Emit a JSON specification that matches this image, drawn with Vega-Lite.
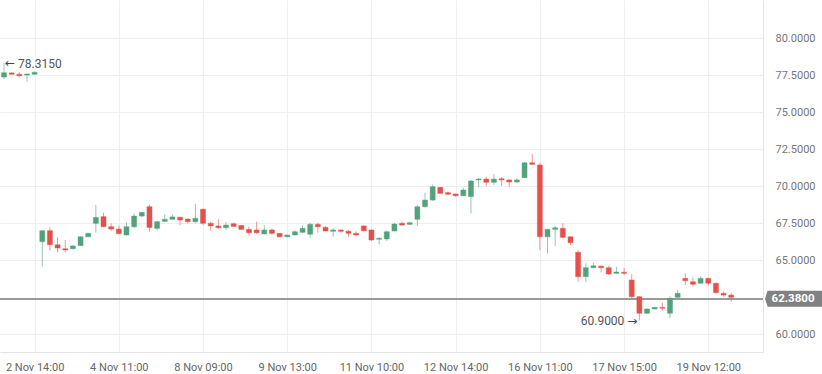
{
  "$schema": "https://vega.github.io/schema/vega-lite/v6.json",
  "width": 763,
  "height": 352,
  "autosize": {"type": "none"},
  "padding": {"left": 0, "top": 0, "right": 59, "bottom": 22},
  "background": "white",
  "config": {
    "font": "Roboto",
    "view": {"stroke": null},
    "axis": {"labelFont": "Roboto", "gridColor": "#eeeeee", "gridWidth": 1, "domainColor": "#e3e3e3"}
  },
  "data": {
    "values": [
      {"i":0,"open":77.36,"high":78.315,"low":77.23,"close":77.66},
      {"i":1,"open":77.64,"high":77.70,"low":77.52,"close":77.55},
      {"i":2,"open":77.55,"high":77.70,"low":77.34,"close":77.45},
      {"i":3,"open":77.50,"high":77.57,"low":77.03,"close":77.57},
      {"i":4,"open":77.55,"high":77.75,"low":77.50,"close":77.68},
      {"i":5,"open":66.24,"high":66.98,"low":64.55,"close":66.98},
      {"i":6,"open":66.98,"high":67.21,"low":65.63,"close":66.03},
      {"i":7,"open":66.03,"high":66.53,"low":65.52,"close":65.81},
      {"i":8,"open":65.76,"high":66.35,"low":65.52,"close":65.68},
      {"i":9,"open":65.76,"high":66.00,"low":65.72,"close":65.95},
      {"i":10,"open":65.97,"high":66.60,"low":65.95,"close":66.57},
      {"i":11,"open":66.57,"high":66.84,"low":66.55,"close":66.80},
      {"i":12,"open":67.48,"high":68.72,"low":66.84,"close":67.88},
      {"i":13,"open":67.93,"high":68.20,"low":67.20,"close":67.25},
      {"i":14,"open":67.25,"high":67.48,"low":66.98,"close":67.09},
      {"i":15,"open":67.09,"high":67.32,"low":66.74,"close":66.78},
      {"i":16,"open":66.69,"high":67.55,"low":66.66,"close":67.25},
      {"i":17,"open":67.25,"high":68.15,"low":67.16,"close":67.97},
      {"i":18,"open":67.97,"high":68.25,"low":67.88,"close":68.22},
      {"i":19,"open":68.60,"high":68.74,"low":66.91,"close":67.20},
      {"i":20,"open":67.14,"high":67.62,"low":66.99,"close":67.59},
      {"i":21,"open":67.61,"high":68.07,"low":67.57,"close":67.75},
      {"i":22,"open":67.75,"high":68.06,"low":67.72,"close":67.91},
      {"i":23,"open":67.89,"high":67.92,"low":67.34,"close":67.70},
      {"i":24,"open":67.77,"high":67.80,"low":67.47,"close":67.59},
      {"i":25,"open":67.59,"high":68.80,"low":67.50,"close":67.82},
      {"i":26,"open":68.43,"high":68.45,"low":67.36,"close":67.48},
      {"i":27,"open":67.48,"high":67.59,"low":66.98,"close":67.30},
      {"i":28,"open":67.30,"high":67.77,"low":67.07,"close":67.18},
      {"i":29,"open":67.18,"high":67.57,"low":67.03,"close":67.36},
      {"i":30,"open":67.45,"high":67.52,"low":67.25,"close":67.27},
      {"i":31,"open":67.34,"high":67.36,"low":67.05,"close":67.07},
      {"i":32,"open":67.07,"high":67.25,"low":66.64,"close":66.84},
      {"i":33,"open":67.03,"high":67.59,"low":66.76,"close":66.84},
      {"i":34,"open":66.76,"high":67.36,"low":66.74,"close":67.03},
      {"i":35,"open":67.03,"high":67.11,"low":66.69,"close":66.80},
      {"i":36,"open":66.80,"high":66.82,"low":66.52,"close":66.57},
      {"i":37,"open":66.57,"high":66.71,"low":66.55,"close":66.69},
      {"i":38,"open":66.69,"high":67.00,"low":66.67,"close":66.91},
      {"i":39,"open":66.87,"high":67.34,"low":66.82,"close":67.14},
      {"i":40,"open":66.74,"high":67.52,"low":66.51,"close":67.41},
      {"i":41,"open":67.41,"high":67.52,"low":66.84,"close":67.25},
      {"i":42,"open":67.20,"high":67.30,"low":66.94,"close":66.96},
      {"i":43,"open":66.94,"high":67.16,"low":66.57,"close":67.03},
      {"i":44,"open":67.03,"high":67.05,"low":66.84,"close":66.94},
      {"i":45,"open":66.94,"high":67.03,"low":66.57,"close":66.80},
      {"i":46,"open":66.80,"high":66.94,"low":66.62,"close":66.69},
      {"i":47,"open":67.30,"high":67.36,"low":66.91,"close":66.98},
      {"i":48,"open":67.03,"high":67.05,"low":66.28,"close":66.35},
      {"i":49,"open":66.40,"high":66.53,"low":66.06,"close":66.47},
      {"i":50,"open":66.42,"high":67.00,"low":66.28,"close":66.91},
      {"i":51,"open":66.96,"high":67.52,"low":66.94,"close":67.43},
      {"i":52,"open":67.48,"high":67.59,"low":67.34,"close":67.36},
      {"i":53,"open":67.41,"high":67.59,"low":67.34,"close":67.52},
      {"i":54,"open":67.75,"high":68.72,"low":67.30,"close":68.60},
      {"i":55,"open":68.60,"high":69.55,"low":68.55,"close":69.05},
      {"i":56,"open":69.05,"high":70.11,"low":69.00,"close":69.95},
      {"i":57,"open":69.91,"high":69.93,"low":69.48,"close":69.50},
      {"i":58,"open":69.55,"high":69.62,"low":69.40,"close":69.44},
      {"i":59,"open":69.46,"high":69.48,"low":69.27,"close":69.34},
      {"i":60,"open":69.34,"high":69.89,"low":69.32,"close":69.73},
      {"i":61,"open":69.28,"high":70.41,"low":68.15,"close":70.34},
      {"i":62,"open":70.41,"high":70.54,"low":69.91,"close":70.47},
      {"i":63,"open":70.47,"high":70.61,"low":70.00,"close":70.25},
      {"i":64,"open":70.25,"high":70.81,"low":70.07,"close":70.47},
      {"i":65,"open":70.49,"high":70.61,"low":70.00,"close":70.41},
      {"i":66,"open":70.41,"high":70.45,"low":69.93,"close":70.27},
      {"i":67,"open":70.27,"high":70.52,"low":70.20,"close":70.41},
      {"i":68,"open":70.56,"high":71.64,"low":70.54,"close":71.57},
      {"i":69,"open":71.57,"high":72.16,"low":71.44,"close":71.46},
      {"i":70,"open":71.42,"high":71.57,"low":65.68,"close":66.57},
      {"i":71,"open":66.57,"high":67.10,"low":65.45,"close":67.07},
      {"i":72,"open":67.07,"high":67.30,"low":65.95,"close":67.18},
      {"i":73,"open":67.14,"high":67.48,"low":66.47,"close":66.53},
      {"i":74,"open":66.57,"high":66.60,"low":66.01,"close":66.17},
      {"i":75,"open":65.52,"high":65.68,"low":63.53,"close":63.87},
      {"i":76,"open":63.87,"high":64.78,"low":63.53,"close":64.48},
      {"i":77,"open":64.48,"high":64.80,"low":64.46,"close":64.61},
      {"i":78,"open":64.59,"high":64.62,"low":64.17,"close":64.48},
      {"i":79,"open":64.48,"high":64.61,"low":63.99,"close":64.05},
      {"i":80,"open":64.10,"high":64.55,"low":64.08,"close":64.19},
      {"i":81,"open":64.17,"high":64.46,"low":63.99,"close":64.10},
      {"i":82,"open":63.65,"high":64.05,"low":62.41,"close":62.52},
      {"i":83,"open":62.52,"high":62.55,"low":60.90,"close":61.40},
      {"i":84,"open":61.40,"high":61.75,"low":61.35,"close":61.69},
      {"i":85,"open":61.69,"high":61.84,"low":61.66,"close":61.80},
      {"i":86,"open":61.80,"high":62.11,"low":61.57,"close":61.74},
      {"i":87,"open":61.40,"high":62.55,"low":61.06,"close":62.41},
      {"i":88,"open":62.48,"high":62.97,"low":62.46,"close":62.75},
      {"i":89,"open":63.76,"high":64.10,"low":63.31,"close":63.60},
      {"i":90,"open":63.53,"high":63.82,"low":63.20,"close":63.36},
      {"i":91,"open":63.43,"high":63.90,"low":63.40,"close":63.76},
      {"i":92,"open":63.76,"high":63.80,"low":63.27,"close":63.43},
      {"i":93,"open":63.43,"high":63.45,"low":62.75,"close":62.79},
      {"i":94,"open":62.75,"high":62.86,"low":62.52,"close":62.63},
      {"i":95,"open":62.63,"high":62.75,"low":62.18,"close":62.48},
      {"i":96,"open":62.40,"high":62.41,"low":62.36,"close":62.38}
    ]
  },
  "encoding": {
    "x": {
      "field": "i", "type": "quantitative",
      "scale": {"domain": [-0.5225, 99.15], "nice": false, "zero": false, "padding": 0},
      "axis": {
        "orient": "bottom", "title": null,
        "values": [4, 15, 26, 37, 48, 59, 70, 81, 92],
        "labelExpr": "['2 Nov 14:00','4 Nov 11:00','8 Nov 09:00','9 Nov 13:00','11 Nov 10:00','12 Nov 14:00','16 Nov 11:00','17 Nov 15:00','19 Nov 12:00'][round((datum.value-4)/11)]",
        "grid": true, "ticks": false, "labelPadding": 9, "labelFontSize": 11, "labelColor": "#666666",
        "labelBaseline": "top", "domainColor": "#e3e3e3"
      }
    }
  },
  "layer": [
    {
      "mark": {"type": "rule", "color": "#9a9a9a", "strokeWidth": 1.5},
      "encoding": {"x": null, "y": {"datum": 62.38, "type": "quantitative"}}
    },
    {
      "mark": {"type": "rule", "strokeWidth": 1, "opacity": 0.6},
      "encoding": {
        "y": {
          "field": "low", "type": "quantitative",
          "scale": {"domain": [58.784, 82.568], "nice": false, "zero": false},
          "axis": {
            "orient": "right", "title": null,
            "values": [60, 65, 67.5, 70, 72.5, 75, 77.5, 80],
            "format": ".4f", "grid": true, "ticks": false, "labelPadding": 12,
            "labelFontSize": 11, "labelColor": "#777777", "domainColor": "#e3e3e3"
          }
        },
        "y2": {"field": "high"},
        "color": {
          "condition": [
            {"test": "abs(datum.open - datum.close) < 0.035", "value": "#9e9e9e"},
            {"test": "datum.close > datum.open", "value": "#53a27b"}
          ],
          "value": "#e4504b"
        }
      }
    },
    {
      "mark": {"type": "bar", "size": 5, "strokeWidth": 1, "strokeOpacity": 0.45},
      "encoding": {
        "y": {"field": "open", "type": "quantitative"},
        "y2": {"field": "close"},
        "color": {
          "condition": [
            {"test": "abs(datum.open - datum.close) < 0.035", "value": "#9e9e9e"},
            {"test": "datum.close > datum.open", "value": "#53a27b"}
          ],
          "value": "#e4504b"
        },
        "stroke": {
          "condition": [
            {"test": "abs(datum.open - datum.close) < 0.035", "value": "#9e9e9e"},
            {"test": "datum.close > datum.open", "value": "#53a27b"}
          ],
          "value": "#e4504b"
        }
      }
    },
    {
      "data": {"values": [{"i": 0, "v": 78.315, "label": "78.3150", "arrow": "←"}]},
      "layer": [
        {
          "mark": {"type": "text", "align": "left", "baseline": "middle", "dx": 14, "dy": 1.5, "fontSize": 12, "color": "#555555", "font": "Roboto"},
          "encoding": {"y": {"field": "v", "type": "quantitative"}, "text": {"field": "label"}}
        },
        {
          "mark": {"type": "text", "align": "left", "baseline": "middle", "dx": 1, "dy": 0.5, "fontSize": 12, "color": "#444444", "font": "DejaVu Sans"},
          "encoding": {"y": {"field": "v", "type": "quantitative"}, "text": {"field": "arrow"}}
        }
      ]
    },
    {
      "data": {"values": [{"i": 83, "v": 60.9, "label": "60.9000", "arrow": "→"}]},
      "layer": [
        {
          "mark": {"type": "text", "align": "right", "baseline": "middle", "dx": -15, "dy": 0.5, "fontSize": 12, "color": "#555555", "font": "Roboto"},
          "encoding": {"y": {"field": "v", "type": "quantitative"}, "text": {"field": "label"}}
        },
        {
          "mark": {"type": "text", "align": "right", "baseline": "middle", "dx": -2, "dy": 0, "fontSize": 12, "color": "#444444", "font": "DejaVu Sans"},
          "encoding": {"y": {"field": "v", "type": "quantitative"}, "text": {"field": "arrow"}}
        }
      ]
    },
    {
      "data": {"values": [{"pos": 103.14, "v": 62.38, "label": "62.3800"}]},
      "mark": {"type": "point", "filled": true, "color": "#7f8183", "opacity": 1, "size": 3249, "shape": "M -0.91 -0.28 L 1 -0.28 L 1 0.28 L -0.91 0.28 L -1 0 Z", "clip": false},
      "encoding": {"x": {"field": "pos", "type": "quantitative"}, "y": {"field": "v", "type": "quantitative"}}
    },
    {
      "data": {"values": [{"pos": 103.14, "v": 62.38, "label": "62.3800"}]},
      "mark": {"type": "text", "align": "center", "baseline": "middle", "fontSize": 11.5, "fontWeight": "bold", "color": "#ffffff", "font": "Roboto", "clip": false, "dx": -0.5, "dy": 0.5},
      "encoding": {"x": {"field": "pos", "type": "quantitative"}, "y": {"field": "v", "type": "quantitative"}, "text": {"field": "label"}}
    }
  ]
}
